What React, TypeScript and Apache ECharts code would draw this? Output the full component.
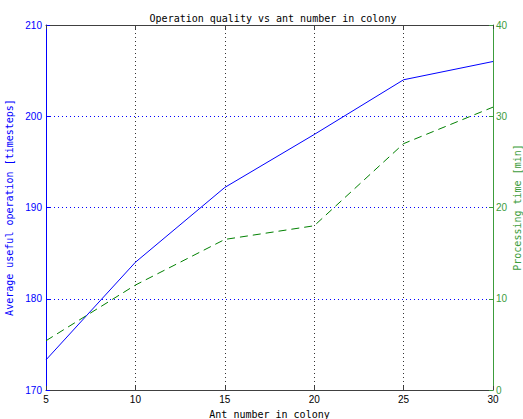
import React, { useEffect, useRef } from "react";
import * as echarts from "echarts";

const antCounts = [5, 10, 15, 20, 25, 30];
const usefulOperation = [173.3, 184, 192.2, 198, 204, 206];
const processingTime = [5.4, 11.5, 16.5, 18, 27, 31];

const BLUE = "#0000ff";
const GREEN = "#008000";
const GREEN_AXIS = "#3c9c3c";
const GRAY = "#404040";
const FONT = "DejaVu Sans Mono";
const TICK_FONT = "Liberation Sans";

export default function App() {
  const ref = useRef<HTMLDivElement>(null);
  useEffect(() => {
    const chart = echarts.init(ref.current!, null, { renderer: "svg" });
    chart.setOption({
      animation: false,
      backgroundColor: "#ffffff",
      title: {
        text: "Operation quality vs ant number in colony",
        left: 268,
        textAlign: "center",
        top: 8,
        textStyle: { fontFamily: FONT, fontSize: 10, fontWeight: "normal", color: "#000" },
      },
      grid: {
        left: 46,
        right: 30,
        top: 25,
        bottom: 29,
        containLabel: false,
        outerBoundsMode: "none",
      },
      xAxis: [
        {
          type: "value",
          min: 5,
          max: 30,
          interval: 5,
          position: "bottom",
          name: "Ant number in colony",
          nameLocation: "middle",
          nameGap: 19,
          nameTextStyle: { fontFamily: FONT, fontSize: 10, color: "#000" },
          axisLine: { lineStyle: { color: GRAY, width: 1 } },
          axisTick: { inside: true, length: 4, lineStyle: { color: GRAY } },
          axisLabel: { fontFamily: TICK_FONT, fontSize: 10, color: "#000", margin: 4 },
          splitLine: { show: true, lineStyle: { type: [1, 3], color: "#333", width: 1 } },
        },
        {
          type: "value",
          min: 5,
          max: 30,
          interval: 5,
          position: "top",
          axisLine: { lineStyle: { color: GRAY, width: 1 } },
          axisTick: { inside: true, length: 4, lineStyle: { color: GRAY } },
          axisLabel: { show: false },
          splitLine: { show: false },
        },
      ],
      yAxis: [
        {
          type: "value",
          min: 170,
          max: 210,
          interval: 10,
          position: "left",
          name: "Average useful operation [timesteps]",
          nameLocation: "middle",
          nameGap: 27,
          nameTextStyle: { fontFamily: FONT, fontSize: 10, color: BLUE },
          axisLine: { show: true, lineStyle: { color: BLUE, width: 1 } },
          axisTick: { show: true, inside: true, length: 4, lineStyle: { color: BLUE } },
          axisLabel: { fontFamily: TICK_FONT, fontSize: 10, color: BLUE, margin: 4 },
          splitLine: { show: true, lineStyle: { type: [1, 3], color: BLUE, width: 1 } },
        },
        {
          type: "value",
          min: 0,
          max: 40,
          interval: 10,
          position: "right",
          name: "Processing time [min]",
          nameLocation: "middle",
          nameGap: 19,
          nameMoveOverlap: false,
          nameRotate: 90,
          nameTextStyle: { fontFamily: FONT, fontSize: 10, color: GREEN_AXIS },
          axisLine: { show: true, lineStyle: { color: GREEN_AXIS, width: 1 } },
          axisTick: { show: true, inside: true, length: 4, lineStyle: { color: GREEN_AXIS } },
          axisLabel: { fontFamily: TICK_FONT, fontSize: 10, color: GREEN_AXIS, margin: 3 },
          splitLine: { show: false },
        },
      ],
      series: [
        {
          type: "line",
          xAxisIndex: 0,
          yAxisIndex: 0,
          data: antCounts.map((x, i) => [x, usefulOperation[i]]),
          showSymbol: false,
          lineStyle: { color: BLUE, width: 1 },
          itemStyle: { color: BLUE },
        },
        {
          type: "line",
          xAxisIndex: 0,
          yAxisIndex: 1,
          data: antCounts.map((x, i) => [x, processingTime[i]]),
          showSymbol: false,
          lineStyle: { color: GREEN, width: 1, type: [8, 5] },
          itemStyle: { color: GREEN },
        },
      ],
    });
    return () => chart.dispose();
  }, []);
  return (
    <div
      ref={ref}
      style={{ position: "fixed", left: 0, top: 0, width: 523, height: 419, background: "#fff" }}
    />
  );
}
